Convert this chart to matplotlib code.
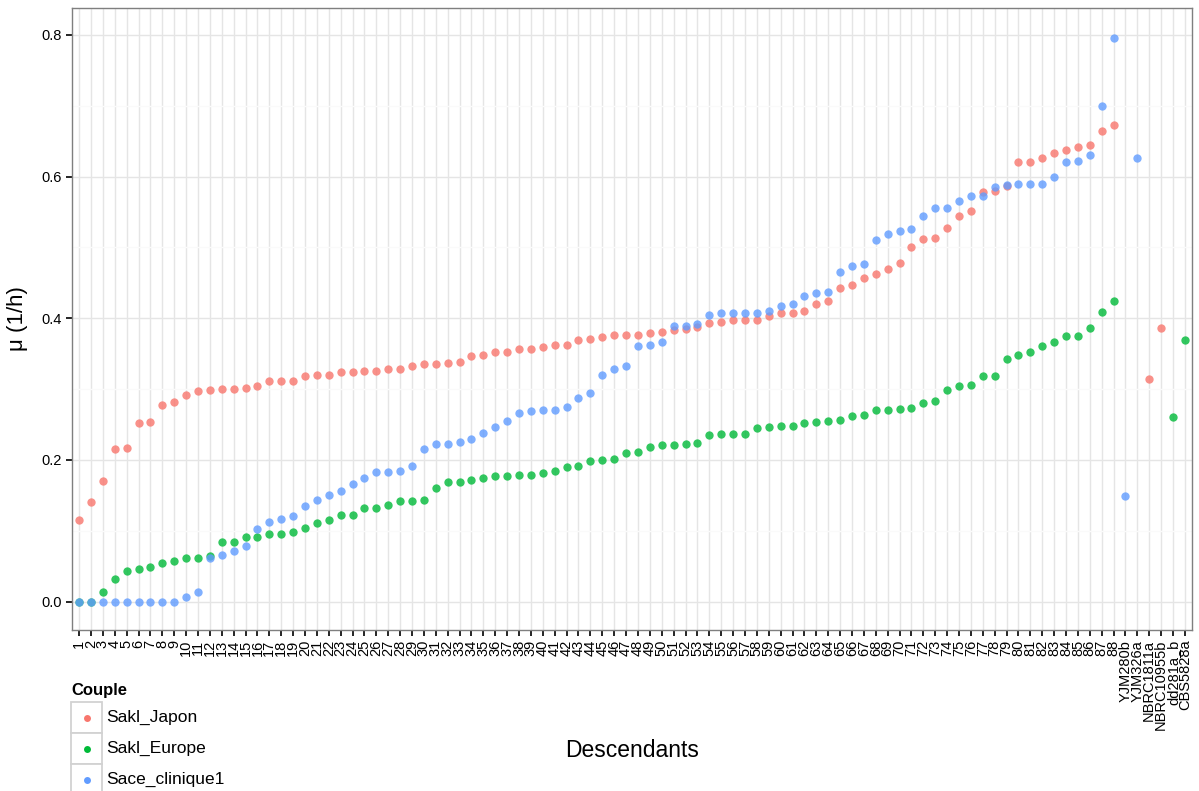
import matplotlib
matplotlib.use("Agg")
import matplotlib.pyplot as plt
from matplotlib.patches import Rectangle
from matplotlib.lines import Line2D

plt.rcParams['font.family'] = ['Liberation Sans', 'DejaVu Sans']

categories = [str(i) for i in range(1, 89)] + ['YJM280b', 'YJM326a', 'NBRC1811a',
                                               'NBRC10955b', 'dd281a_b', 'CBS5828a']

sakl_japon = [0.116, 0.141, 0.171, 0.215, 0.217, 0.252, 0.254, 0.278, 0.282, 0.292,
              0.298, 0.299, 0.300, 0.300, 0.301, 0.304, 0.311, 0.311, 0.311, 0.318,
              0.320, 0.320, 0.324, 0.324, 0.326, 0.326, 0.329, 0.329, 0.332, 0.335,
              0.335, 0.337, 0.339, 0.347, 0.348, 0.353, 0.353, 0.356, 0.357, 0.360,
              0.362, 0.362, 0.370, 0.371, 0.373, 0.377, 0.377, 0.377, 0.379, 0.381,
              0.384, 0.385, 0.388, 0.393, 0.395, 0.397, 0.398, 0.398, 0.403, 0.408,
              0.408, 0.411, 0.420, 0.425, 0.443, 0.447, 0.457, 0.462, 0.469, 0.478,
              0.500, 0.512, 0.513, 0.528, 0.544, 0.551, 0.578, 0.580, 0.587, 0.620,
              0.621, 0.626, 0.633, 0.638, 0.642, 0.645, 0.665, 0.673,
              0.314, 0.386]
sakl_japon_x = categories[:88] + ['NBRC1811a', 'NBRC10955b']

sakl_europe = [0.000, 0.000, 0.013, 0.032, 0.043, 0.046, 0.049, 0.055, 0.058, 0.061,
               0.062, 0.064, 0.084, 0.084, 0.092, 0.092, 0.096, 0.096, 0.099, 0.104,
               0.111, 0.116, 0.122, 0.122, 0.132, 0.132, 0.137, 0.142, 0.142, 0.144,
               0.160, 0.169, 0.169, 0.172, 0.174, 0.178, 0.178, 0.179, 0.179, 0.181,
               0.184, 0.190, 0.192, 0.198, 0.200, 0.202, 0.210, 0.211, 0.219, 0.221,
               0.221, 0.223, 0.224, 0.235, 0.236, 0.237, 0.237, 0.245, 0.247, 0.248,
               0.248, 0.252, 0.253, 0.255, 0.256, 0.262, 0.264, 0.270, 0.270, 0.272,
               0.274, 0.281, 0.283, 0.299, 0.304, 0.306, 0.318, 0.319, 0.342, 0.348,
               0.352, 0.361, 0.366, 0.375, 0.375, 0.386, 0.409, 0.425,
               0.260, 0.369]
sakl_europe_x = categories[:88] + ['dd281a_b', 'CBS5828a']

sace_clinique1 = [0.000, 0.000, 0.000, 0.000, 0.000, 0.000, 0.000, 0.000, 0.000, 0.007,
                  0.014, 0.061, 0.066, 0.071, 0.079, 0.103, 0.113, 0.117, 0.121, 0.135,
                  0.144, 0.150, 0.156, 0.166, 0.174, 0.183, 0.183, 0.185, 0.191, 0.215,
                  0.223, 0.223, 0.226, 0.230, 0.238, 0.247, 0.255, 0.267, 0.269, 0.271,
                  0.271, 0.275, 0.288, 0.295, 0.320, 0.328, 0.333, 0.361, 0.362, 0.366,
                  0.389, 0.389, 0.392, 0.405, 0.407, 0.408, 0.408, 0.408, 0.411, 0.418,
                  0.420, 0.432, 0.436, 0.437, 0.466, 0.474, 0.477, 0.510, 0.519, 0.523,
                  0.526, 0.545, 0.556, 0.556, 0.565, 0.572, 0.573, 0.586, 0.588, 0.589,
                  0.589, 0.590, 0.599, 0.620, 0.622, 0.630, 0.700, 0.796,
                  0.149, 0.626]
sace_clinique1_x = categories[:88] + ['YJM280b', 'YJM326a']

series = [('Sakl_Japon', sakl_japon_x, sakl_japon, '#F8766D'),
          ('Sakl_Europe', sakl_europe_x, sakl_europe, '#00BA38'),
          ('Sace_clinique1', sace_clinique1_x, sace_clinique1, '#619CFF')]

pos = {c: i + 1 for i, c in enumerate(categories)}

fig = plt.figure(figsize=(11.99, 7.91), dpi=100)
ax = fig.add_axes([0.0600, 0.2035, 0.9342, 0.7864])

for name, xs, ys, col in series:
    ax.scatter([pos[c] for c in xs], ys, s=36, color=col, alpha=0.8,
               linewidths=0, zorder=3)

ax.set_xlim(0.4, len(categories) + 0.6)
ax.set_ylim(-0.04, 0.838)
ax.set_xticks(range(1, len(categories) + 1))
ax.set_xticklabels(categories, rotation=90, fontsize=10.5)
ax.set_yticks([0.0, 0.2, 0.4, 0.6, 0.8])
ax.set_yticklabels(['0.0', '0.2', '0.4', '0.6', '0.8'], fontsize=10.5)
ax.set_yticks([0.1, 0.3, 0.5, 0.7], minor=True)
ax.tick_params(axis='both', which='major', length=4, width=1.2, color='black', pad=3)
ax.tick_params(axis='y', which='minor', length=0)
ax.grid(True, which='major', color='#E5E5E5', linewidth=1, zorder=0)
ax.grid(True, which='minor', axis='y', color='#FAFAFA', linewidth=1, zorder=0)
ax.set_axisbelow(True)
for sp in ax.spines.values():
    sp.set_color('#7F7F7F')
    sp.set_linewidth(1)

ax.set_xlabel('Descendants', fontsize=16.5)
ax.xaxis.set_label_coords(0.5, -0.175)
ax.set_ylabel('μ (1/h)', fontsize=16)
ax.yaxis.set_label_coords(-0.039, 0.5)

# legend, ggplot style
fig.text(71 / 1199, 1 - 690 / 791, 'Couple', fontsize=12, fontweight='bold',
         va='center', ha='left')
for i, (name, xs, ys, col) in enumerate(series):
    top = 702 + i * 31
    fig.patches.append(Rectangle((71 / 1199, 1 - (top + 31) / 791), 31 / 1199, 31 / 791,
                                 transform=fig.transFigure, facecolor='white',
                                 edgecolor='#D2D2D2', linewidth=1.3))
    fig.lines.append(Line2D([86.5 / 1199], [1 - (top + 15.5) / 791], marker='o',
                            markersize=5, color=col, markeredgewidth=0,
                            transform=fig.transFigure))
    fig.text(106 / 1199, 1 - (top + 15.5) / 791, name, fontsize=12.5, va='center',
             ha='left')

fig.savefig('out.png', dpi=100)
